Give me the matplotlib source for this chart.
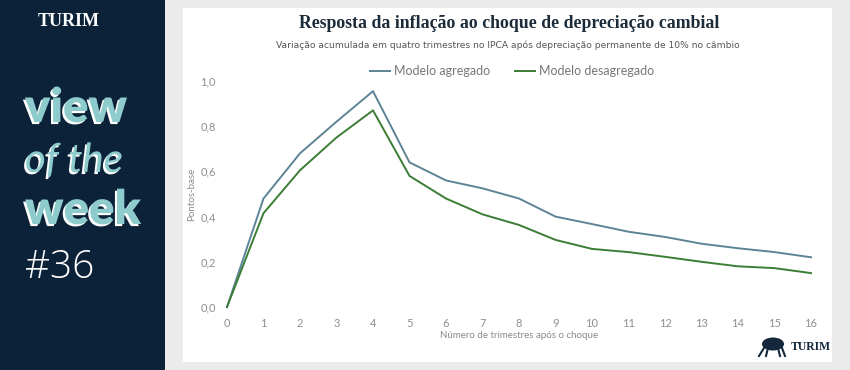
import matplotlib
matplotlib.use("Agg")
import matplotlib.pyplot as plt
import matplotlib.patheffects as pe
from matplotlib.patches import Rectangle, Ellipse
from matplotlib.lines import Line2D

# === Dados ===
trimestres = list(range(0, 17))
modelo_agregado = [0.0, 0.48, 0.68, 0.82, 0.955, 0.64, 0.56, 0.525, 0.48, 0.40,
                   0.367, 0.333, 0.31, 0.28, 0.26, 0.243, 0.22]
modelo_desagregado = [0.0, 0.415, 0.605, 0.75, 0.87, 0.58, 0.48, 0.41, 0.363, 0.297,
                      0.257, 0.243, 0.222, 0.20, 0.18, 0.172, 0.15]
y_ticks = [0.0, 0.2, 0.4, 0.6, 0.8, 1.0]
y_tick_labels = ["0,0", "0,2", "0,4", "0,6", "0,8", "1,0"]

titulo = "Resposta da inflação ao choque de depreciação cambial"
subtitulo = "Variação acumulada em quatro trimestres no IPCA após depreciação permanente de 10% no câmbio"

W, H = 850, 370
fig = plt.figure(figsize=(W / 100, H / 100), dpi=100)
fig.patch.set_facecolor("#ebebeb")

# === Painel lateral escuro ===
fig.patches.append(Rectangle((0, 0), 165 / W, 1, transform=fig.transFigure,
                             facecolor="#0b2239", edgecolor="none", zorder=-2))
# === Cartão branco ===
fig.patches.append(Rectangle((183 / W, 8 / H), (832 - 183) / W, (362 - 8) / H,
                             transform=fig.transFigure, facecolor="white",
                             edgecolor="none", zorder=-2))

teal = "#8ecbcc"
sombra = [pe.withSimplePatchShadow(offset=(-1.5, -1.5), shadow_rgbFace="white", alpha=1)]

fig.text(69 / W, 1 - 22 / H, "TURIM", color="white", fontsize=13, fontweight="bold",
         family="Liberation Serif", ha="center", va="center")
fig.text(25 / W, 1 - 122 / H, "view", color=teal, fontsize=34, fontweight="heavy",
         family="Lato", ha="left", va="baseline", path_effects=sombra)
fig.text(25 / W, 1 - 172 / H, "of the", color=teal, fontsize=29, style="italic",
         family="Lato", ha="left", va="baseline", path_effects=sombra)
fig.text(25 / W, 1 - 224 / H, "week", color=teal, fontsize=34, fontweight="heavy",
         family="Lato", ha="left", va="baseline", path_effects=sombra)
fig.text(25 / W, 1 - 278 / H, "#36", color="white", fontsize=28, fontweight="light",
         family="Open Sans", ha="left", va="baseline")

# === Títulos ===
fig.text(509 / W, 1 - 24 / H, titulo, color="#1c2b3a", fontsize=12.8, fontweight="bold",
         family="Liberation Serif", ha="center", va="center")
fig.text(508 / W, 1 - 45 / H, subtitulo, color="#555555", fontsize=6.6,
         family=["Liberation Sans Narrow", "DejaVu Sans"], ha="center", va="center")

# === Gráfico ===
ax = fig.add_axes([227 / W, (H - 307) / H, (811 - 227) / W, (307 - 81) / H])
ax.set_zorder(2)
ax.set_facecolor("none")
ax.plot(trimestres, modelo_agregado, color="#5d8495", lw=1.4, label="Modelo agregado",
        clip_on=False)
ax.plot(trimestres, modelo_desagregado, color="#3b7d35", lw=1.4, label="Modelo desagregado",
        clip_on=False)
ax.set_xlim(0, 16)
ax.set_ylim(0, 1.0)
ax.set_xticks(trimestres)
ax.set_yticks(y_ticks)
ax.set_yticklabels(y_tick_labels)
for s in ax.spines.values():
    s.set_visible(False)
ax.tick_params(length=0, labelsize=8, labelcolor="#8f8f8f", pad=8)
for lab in ax.get_xticklabels() + ax.get_yticklabels():
    lab.set_family("Lato")
ax.set_xlabel("Número de trimestres após o choque", fontsize=7, color="#8a8a8a",
              family="Lato", labelpad=1)
ax.set_ylabel("Pontos-base", fontsize=7, color="#8a8a8a", family="Lato", labelpad=3)

fig.legend(loc="center", bbox_to_anchor=(512 / W, 1 - 71 / H), ncol=2, frameon=False,
           handlelength=1.6, handletextpad=0.3, columnspacing=2.0,
           labelcolor="#777777", prop={"family": "Lato", "size": 9})

# === Logo (touro simplificado + nome) ===
navy = "#14273b"
fig.patches.append(Ellipse((773 / W, 1 - 344 / H), 22 / W, 13 / H, transform=fig.transFigure,
                           facecolor=navy, edgecolor="none", zorder=3))
for x0, x1 in [(764, 759), (768, 766), (778, 780), (782, 785)]:
    fig.lines.append(Line2D([x0 / W, x1 / W], [1 - 348 / H, 1 - 356 / H],
                            transform=fig.transFigure, color=navy, lw=1.5))
fig.text(811 / W, 1 - 347 / H, "TURIM", color=navy, fontsize=8.5, fontweight="bold",
         family="Liberation Serif", ha="center", va="center")

fig.savefig("out.png", dpi=100, facecolor=fig.get_facecolor())
